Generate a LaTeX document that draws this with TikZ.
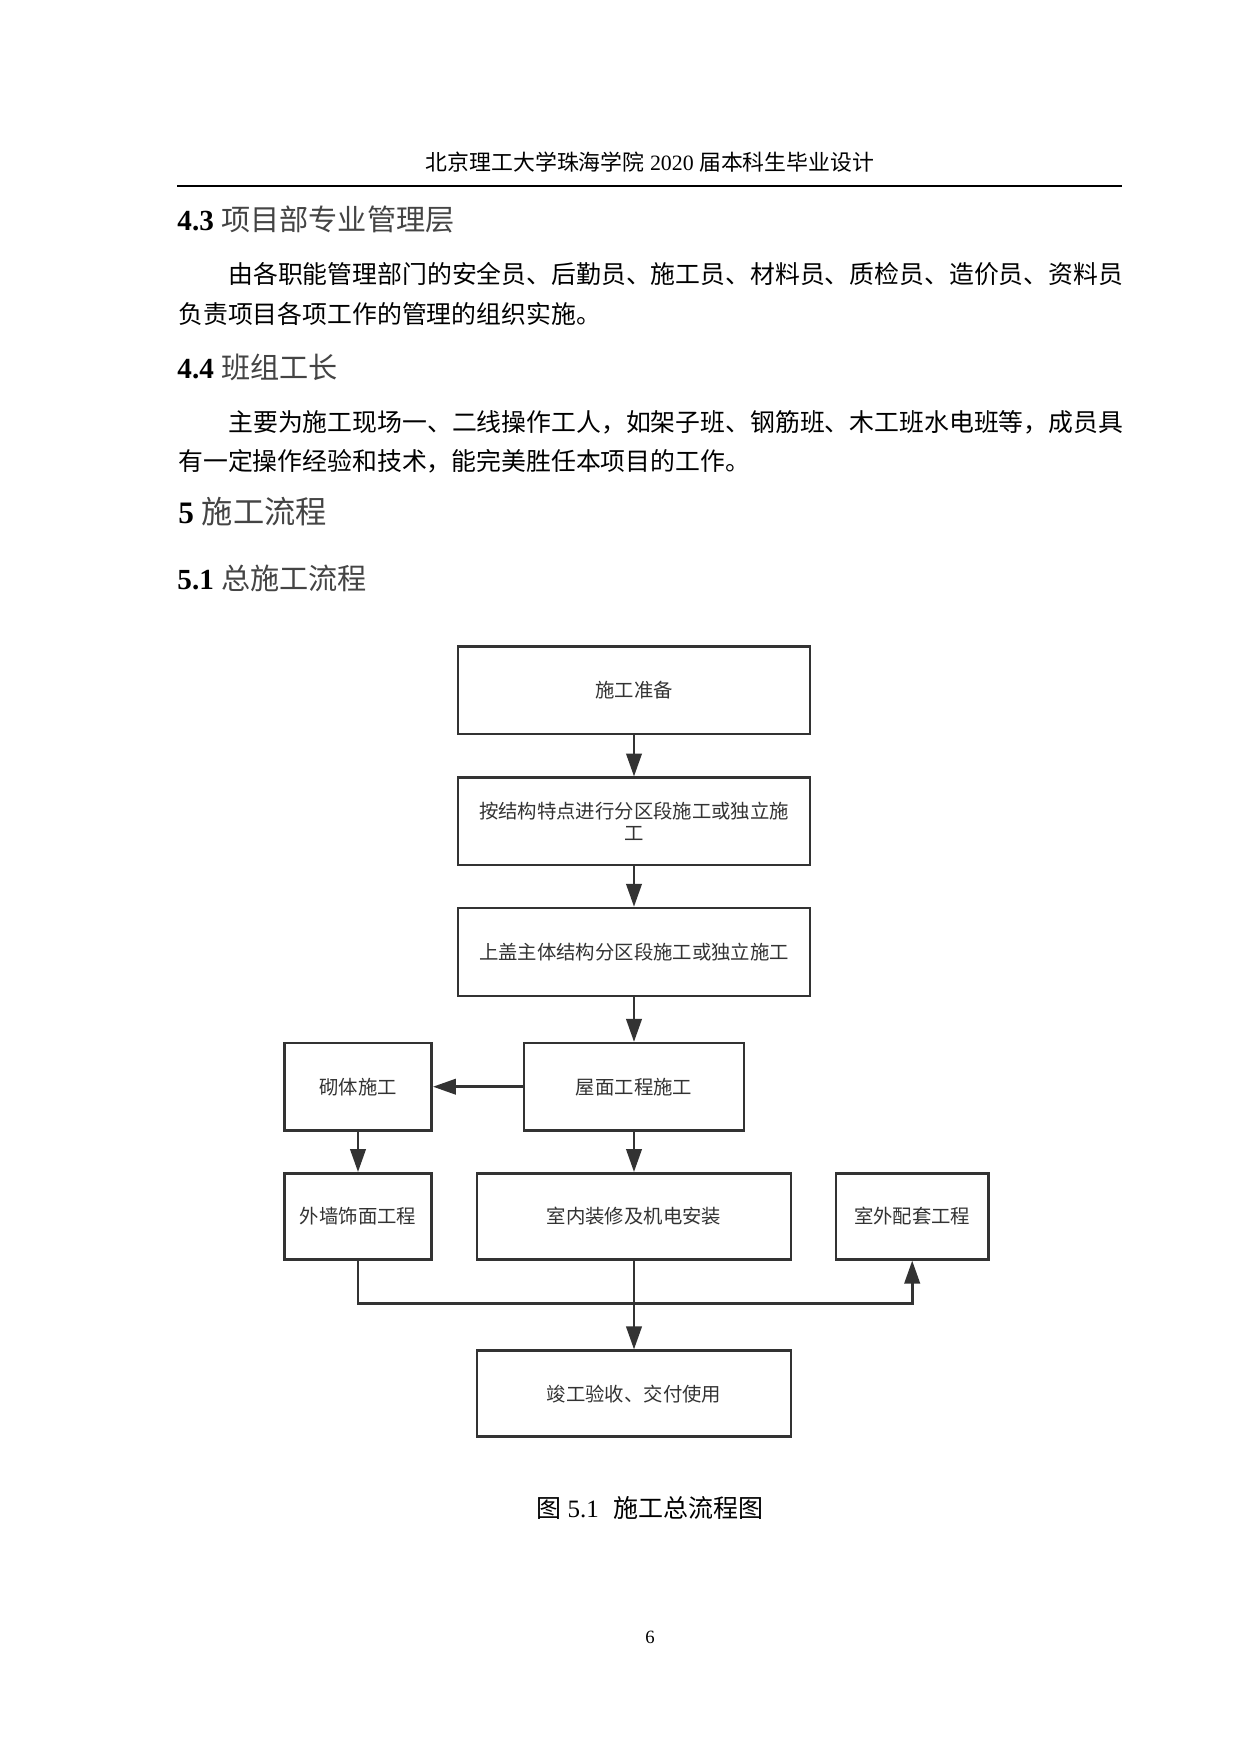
\documentclass[tikz,border=0pt]{standalone}
\usepackage{fontspec}
\setmainfont{Liberation Serif}
\newfontfamily\cjk{Noto Sans CJK SC}
\usetikzlibrary{arrows.meta}
\definecolor{ln}{HTML}{333333}
\definecolor{hd}{HTML}{444444}
\begin{document}
\begin{tikzpicture}[x=0.48pt,y=-0.48pt,
  box/.style={draw=ln, line width=1.25pt, rectangle, inner sep=0pt, align=center,
    font=\cjk\fontsize{9.3pt}{10.4pt}\selectfont, text=ln},
  arr/.style={draw=ln, line width=1.25pt, -{Triangle[length=11pt,width=7.4pt]}},
  bodytext/.style={anchor=base west, inner sep=0pt, font=\cjk\fontsize{11.93pt}{14pt}\selectfont},
  headfour/.style={anchor=base west, inner sep=0pt, font=\fontsize{14pt}{16pt}\selectfont},
  headfive/.style={anchor=base west, inner sep=0pt, font=\fontsize{15pt}{17pt}\selectfont},
  plain/.style={anchor=base, inner sep=0pt}
]
\useasboundingbox (0,0) rectangle (1240,1754);
\fill[white] (0,0) rectangle (1240,1754);

% page header
\node[plain, font=\fontsize{10.5pt}{12pt}\selectfont] (hdr) at (650,170.8)
  {{\cjk 北京理工大学珠海学院} 2020 {\cjk 届本科生毕业设计}};
\coordinate (rl) at (177,186);
\coordinate (rr) at (1122,186);
\draw[line width=1pt] (rl) -- (rr);

% text body
\node[headfour] (h43) at (177,230) {\textbf{4.3} {\cjk\color{hd}项目部专业管理层}};
\node[bodytext] (p1) at (228,283.4) {由各职能管理部门的安全员、后勤员、施工员、材料员、质检员、造价员、资料员};
\node[bodytext] (p2) at (178,323) {负责项目各项工作的管理的组织实施。};
\node[headfour] (h44) at (177,378.6) {\textbf{4.4} {\cjk\color{hd}班组工长}};
\node[bodytext] (p3) at (228,431) {主要为施工现场一、二线操作工人，如架子班、钢筋班、木工班水电班等，成员具};
\node[bodytext] (p4) at (178,470.4) {有一定操作经验和技术，能完美胜任本项目的工作。};
\node[headfive] (h5) at (178,523) {\textbf{5} {\cjk\color{hd}施工流程}};
\node[headfour] (h51) at (177,589) {\textbf{5.1} {\cjk\color{hd}总施工流程}};

% flowchart
\node[box, minimum width=168.96pt, minimum height=41.8pt] (b1) at (634,690.3) {施工准备};
\node[box, minimum width=168.96pt, minimum height=41.8pt] (b2) at (634,821.3) {按结构特点进行分区段施工或独立施\\工};
\node[box, minimum width=168.96pt, minimum height=42.2pt] (b3) at (634,952) {上盖主体结构分区段施工或独立施工};
\node[box, minimum width=105.6pt, minimum height=41.8pt] (b4) at (634,1086.7) {屋面工程施工};
\node[box, minimum width=70.75pt, minimum height=41.8pt] (b5) at (358,1086.7) {砌体施工};
\node[box, minimum width=70.75pt, minimum height=41.3pt] (b6) at (358,1216.3) {外墙饰面工程};
\node[box, minimum width=150.6pt, minimum height=41.3pt] (b7) at (634,1216.3) {室内装修及机电安装};
\node[box, minimum width=73.1pt, minimum height=41.3pt] (b8) at (912.2,1216.3) {室外配套工程};
\node[box, minimum width=150.7pt, minimum height=41.3pt] (b9) at (634,1393.7) {竣工验收、交付使用};

\draw[arr] (b1) -- (b2);
\draw[arr] (b2) -- (b3);
\draw[arr] (b3) -- (b4);
\draw[arr] (b4) -- (b5);
\draw[arr] (b5) -- (b6);
\draw[arr] (b4) -- (b7);
\draw[arr] (b7) -- (b9);
\coordinate (jr) at (912.2,1303.3);
\draw[arr] (b6.south) |- (jr) -- (b8.south);

% caption and page number
\node[plain, font=\fontsize{12pt}{14pt}\selectfont] (cap) at (650,1517.5)
  {{\cjk 图} 5.1\hspace{0.6em}{\cjk 施工总流程图}};
\node[plain, font=\fontsize{9pt}{11pt}\selectfont] (pg) at (650,1643) {6};
\end{tikzpicture}
\end{document}
